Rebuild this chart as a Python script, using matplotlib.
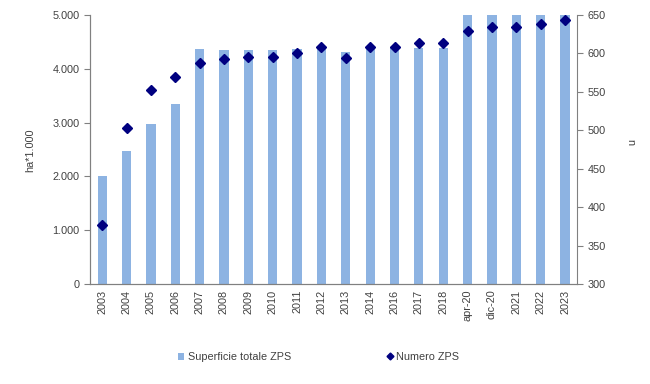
import matplotlib.pyplot as plt
from matplotlib.ticker import FuncFormatter
from matplotlib.lines import Line2D
from matplotlib.patches import Patch

plt.rcParams['font.family'] = ['Liberation Sans', 'DejaVu Sans']

# --- Data ---
categories = ["2003", "2004", "2005", "2006", "2007", "2008", "2009", "2010",
              "2011", "2012", "2013", "2014", "2016", "2017", "2018",
              "apr-20", "dic-20", "2021", "2022", "2023"]
superficie = [2000, 2472, 2968, 3346, 4368, 4356, 4356, 4356, 4368, 4370,
              4312, 4411, 4411, 4393, 4393, 5400, 5400, 5400, 5400, 5400]
numero = [377, 503, 553, 569, 588, 593, 596, 596, 601, 608,
          594, 609, 609, 613, 613, 629, 635, 635, 638, 643]

BAR_COLOR = '#8DB3E2'
DOT_COLOR = '#000080'
AXIS_COLOR = '#808080'
TEXT_COLOR = '#404040'

fig = plt.figure(figsize=(6.5, 3.84), dpi=100)
ax = fig.add_axes([0.1385, 0.260, 0.7495, 0.701])
ax2 = ax.twinx()

x = range(len(categories))
ax.bar(x, superficie, width=0.38, color=BAR_COLOR, zorder=2)
ax2.plot(x, numero, linestyle='none', marker='D', markersize=5.3,
         color=DOT_COLOR, zorder=3)

ax.set_xlim(-0.5, len(categories) - 0.5)
ax.set_ylim(0, 5000)
ax.set_yticks(range(0, 5001, 1000))
ax.yaxis.set_major_formatter(FuncFormatter(lambda v, p: f"{int(v):,}".replace(",", ".")))
ax2.set_ylim(300, 650)
ax2.set_yticks(range(300, 651, 50))

ax.set_xticks(list(x))
ax.set_xticklabels(categories, rotation=90, fontsize=7.8, color=TEXT_COLOR)
ax.tick_params(axis='x', length=0, pad=4)
ax.tick_params(axis='y', labelsize=7.8, colors=AXIS_COLOR, labelcolor=TEXT_COLOR, length=4)
ax2.tick_params(axis='y', labelsize=7.8, colors=AXIS_COLOR, labelcolor=TEXT_COLOR, length=4)

for a in (ax, ax2):
    a.spines['top'].set_visible(False)
    for s in ('left', 'right', 'bottom'):
        a.spines[s].set_color(AXIS_COLOR)
        a.spines[s].set_linewidth(0.8)
ax.spines['right'].set_visible(False)

fig.text(0.046, 0.61, "ha*1.000", rotation=90, fontsize=7.8, color=TEXT_COLOR,
         ha='center', va='center')
fig.text(0.97, 0.63, "n", rotation=270, fontsize=7.8, color=TEXT_COLOR,
         ha='center', va='center')

handles = [Patch(facecolor=BAR_COLOR, edgecolor='none'),
           Line2D([], [], linestyle='none', marker='D', markersize=3.5, color=DOT_COLOR)]
fig.legend(handles, ["Superficie totale ZPS", "Numero ZPS"], loc='center',
           bbox_to_anchor=(0.49, 0.07), ncol=2, frameon=False, fontsize=7.8,
           handlelength=0.6, handleheight=0.6, handletextpad=0.3, columnspacing=8.8,
           labelcolor=TEXT_COLOR)

fig.savefig("out.png", dpi=100)
